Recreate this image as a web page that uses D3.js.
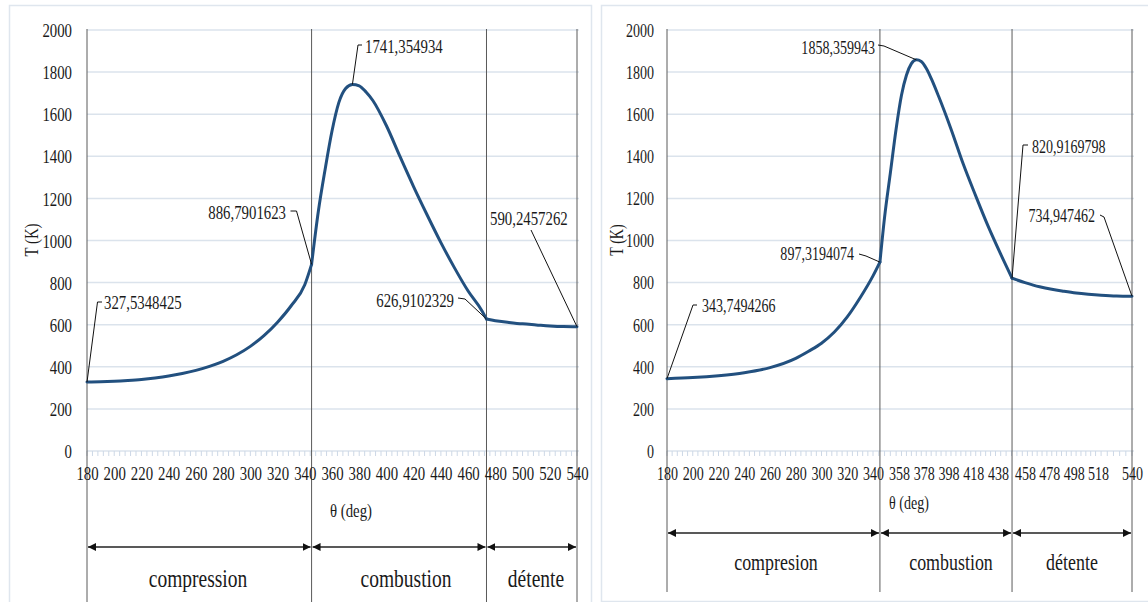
<!DOCTYPE html>
<html><head><meta charset="utf-8">
<script src="https://cdn.jsdelivr.net/npm/d3@7"></script>
<style>
body{margin:0;background:#fff}
svg{display:block}
</style>
</head><body>
<svg id="c" width="1148" height="602" font-family="Liberation Serif"></svg>
<script>
// ---------- DATA ----------
const thetaLeft = [180,190,200,210,220,230,240,250,260,270,280,290,300,310,320,330,340,345,
  350,355,360,365,370,375,380,385,390,400,410,420,430,440,450,460,470,473.5,
  480,490,500,510,520,530,540];
const tempLeft = [327.5348425,328.5,331,335,340,347,356,368,383,402,426,457,497,548,612,690,790,886.7901623,
  1140,1340,1520,1655,1722,1741.354934,1735,1705,1665,1545,1398,1255,1120,990,870,760,668,626.9102329,
  619,611,604,599,594,591,590.2457262];

const thetaRight = [180,200,220,240,260,280,290,300,310,320,330,340,344.8,
  348,352,356,360,364,368,372,376,380,384,390,400,410,420,430,440,448.4,
  458,470,480,490,500,510,520,530,540];
const tempRight = [343.7494266,349,358,372,396,440,474,512,565,637,728,832,897.3194074,
  1110,1320,1530,1690,1785,1840,1858.359943,1850,1818,1770,1685,1530,1362,1212,1068,935,820.9169798,
  800,780,768,759,751,745,740,736,734.947462];

const phaseBoundsLeft = [180, 345, 473.5, 540];
const phaseBoundsRight = [180, 344.8, 448.4, 540];
const phaseLabelsLeft = ["compression", "combustion", "détente"];
const phaseLabelsRight = ["compresion", "combustion", "détente"];

const xTicksLeft = [180,200,220,240,260,280,300,320,340,360,380,400,420,440,460,480,500,520,540];
const xTicksRight = [180,200,220,240,260,280,300,320,340,358,378,398,418,438,458,478,498,518,540];
const yTicks = [0,200,400,600,800,1000,1200,1400,1600,1800,2000];

const annotThetaLeft = [180, 345, 375, 473.5, 540];
const annotThetaRight = [180, 344.8, 372, 448.4, 540];

const yTitle = "T (K)";
const xTitle = "θ (deg)";

// ---------- LAYOUT ----------
const FONT = "Liberation Serif";
const svg = d3.select("#c");
const SQ = 0.78;            // horizontal squeeze of the serif font
const lineColor = "#22507f";
const gridColor = "#dbe3ec";
const vColor = "#5a5a5a";
const inkColor = "#1a1a1a";

function fmt(v){ return String(v).replace(".", ","); }

function txt(g, x, y, s, size, anchor, rot){
  return g.append("text")
    .attr("transform", `translate(${x},${y})` + (rot ? ` rotate(${rot})` : "") + ` scale(${SQ},1)`)
    .attr("text-anchor", anchor || "start")
    .attr("dy", "0.35em")
    .attr("font-family", FONT)
    .attr("font-size", size)
    .attr("fill", inkColor)
    .text(s);
}

function panel(cfg){
  const g = svg.append("g");
  const x = cfg.x;
  const y = d3.scaleLinear().domain([0, 2000]).range([451, 30]);
  const x0 = x(cfg.bounds[0]), x1 = x(cfg.bounds[cfg.bounds.length - 1]);

  g.append("rect").attr("x", cfg.frame[0]).attr("y", cfg.frame[1])
    .attr("width", cfg.frame[2]).attr("height", cfg.frame[3])
    .attr("fill", "none").attr("stroke", "#dfe6ee").attr("stroke-width", 1.5);

  g.selectAll("line.grid").data(yTicks).join("line")
    .attr("x1", x0).attr("x2", x1 + 2)
    .attr("y1", d => y(d)).attr("y2", d => y(d))
    .attr("stroke", gridColor).attr("stroke-width", 1.5);

  g.selectAll("line.minor").data(d3.range(cfg.bounds[0], cfg.bounds[3] + 0.01, 4)).join("line")
    .attr("x1", d => x(d)).attr("x2", d => x(d))
    .attr("y1", y(0)).attr("y2", y(0) + 5)
    .attr("stroke", "#cdd8e6").attr("stroke-width", 1);

  g.selectAll("line.phase").data(cfg.bounds).join("line")
    .attr("x1", d => x(d)).attr("x2", d => x(d))
    .attr("y1", y(2000) - 1).attr("y2", cfg.vBottom)
    .attr("stroke", vColor).attr("stroke-width", 1);

  const ax = g.append("g").attr("transform", `translate(0,${y(0)})`)
    .call(d3.axisBottom(x).tickValues(cfg.xTicks).tickSize(0).tickFormat(d3.format("d")))
    .attr("font-family", FONT);
  ax.select(".domain").remove();
  ax.selectAll("text").attr("y", cfg.tickLabelDy).attr("dy", "0")
    .attr("font-size", cfg.fs).attr("font-family", FONT).attr("fill", inkColor)
    .attr("transform", `scale(${SQ},1)`);

  const ay = g.append("g").attr("transform", `translate(${x0},0)`)
    .call(d3.axisLeft(y).tickValues(yTicks).tickSize(0).tickFormat(d3.format("d")))
    .attr("font-family", FONT);
  ay.select(".domain").remove();
  ay.selectAll("text").attr("x", -cfg.yPad / SQ).attr("dy", "0.35em")
    .attr("font-size", cfg.fs).attr("font-family", FONT).attr("fill", inkColor)
    .attr("transform", `scale(${SQ},1)`);

  txt(g, cfg.yTitlePos[0], cfg.yTitlePos[1], yTitle, cfg.fs, "middle", -90);
  txt(g, cfg.xTitlePos[0], cfg.xTitlePos[1], xTitle, cfg.fs, "middle");

  const pts = cfg.theta.map((t, i) => [t, cfg.temp[i]]);
  const line = d3.line().x(d => x(d[0])).y(d => y(d[1])).curve(d3.curveMonotoneX);
  for (let i = 0; i < 3; i++){
    const seg = pts.filter(d => d[0] >= cfg.bounds[i] && d[0] <= cfg.bounds[i + 1]);
    g.append("path").attr("d", line(seg)).attr("fill", "none")
      .attr("stroke", lineColor).attr("stroke-width", 3)
      .attr("stroke-linejoin", "round").attr("stroke-linecap", "round");
  }

  cfg.annot.forEach((th, i) => {
    const L = cfg.annotLayout[i];
    const v = cfg.temp[cfg.theta.indexOf(th)];
    const path = L.lead.concat([[x(th), y(v)]]);
    g.append("path").attr("d", d3.line()(path)).attr("fill", "none")
      .attr("stroke", "#111").attr("stroke-width", 1);
    txt(g, L.tx, L.ty, fmt(v), cfg.fs, L.anchor);
  });

  const defsId = "ah" + cfg.id;
  svg.append("defs").append("marker").attr("id", defsId)
    .attr("viewBox", "0 0 10 10").attr("refX", 10).attr("refY", 5)
    .attr("markerWidth", 8).attr("markerHeight", 8).attr("markerUnits", "userSpaceOnUse")
    .attr("orient", "auto-start-reverse")
    .append("path").attr("d", "M0,0 L10,5 L0,10 Z").attr("fill", "#111");
  for (let i = 0; i < 3; i++){
    g.append("line")
      .attr("x1", x(cfg.bounds[i]) + 1).attr("x2", x(cfg.bounds[i + 1]) - 1)
      .attr("y1", cfg.arrowY).attr("y2", cfg.arrowY)
      .attr("stroke", "#222").attr("stroke-width", 1.3)
      .attr("marker-start", `url(#${defsId})`).attr("marker-end", `url(#${defsId})`);
    txt(g, cfg.phaseLabelX[i], cfg.phaseLabelY, cfg.phaseLabels[i], cfg.pfs, "middle");
  }
}

panel({
  id: "L",
  theta: thetaLeft, temp: tempLeft, bounds: phaseBoundsLeft,
  x: d3.scaleLinear().domain([180, 540]).range([87, 577]),
  xTicks: xTicksLeft, fs: 19, pfs: 25,
  frame: [9.5, 5.5, 582, 640], vBottom: 602,
  tickLabelDy: 29.5, yPad: 15,
  yTitlePos: [31, 240], xTitlePos: [351, 510],
  arrowY: 547, phaseLabelY: 578, phaseLabelX: [198, 406, 536],
  phaseLabels: phaseLabelsLeft,
  annot: annotThetaLeft,
  annotLayout: [
    {tx: 104, ty: 302, anchor: "start", lead: [[102, 302], [97.5, 302]]},
    {tx: 286, ty: 212, anchor: "end", lead: [[290.5, 211], [296.5, 211]]},
    {tx: 365, ty: 46, anchor: "start", lead: [[362, 45], [358, 45]]},
    {tx: 454, ty: 300, anchor: "end", lead: [[458, 298], [465, 299]]},
    {tx: 490, ty: 218, anchor: "start", lead: [[531, 230]]}
  ]
});

const rDom = [180, 340, 358, 438, 458, 518, 540];
const rRng = [667, 873, 899, 998, 1025, 1098, 1132];
panel({
  id: "R",
  theta: thetaRight, temp: tempRight, bounds: phaseBoundsRight,
  x: d3.scaleLinear().domain(rDom).range(rRng),
  xTicks: xTicksRight, fs: 18, pfs: 23,
  frame: [601.5, 5.5, 560, 596], vBottom: 592,
  tickLabelDy: 29, yPad: 13,
  yTitlePos: [617, 240], xTitlePos: [909, 503],
  arrowY: 533, phaseLabelY: 562, phaseLabelX: [776, 951, 1072],
  phaseLabels: phaseLabelsRight,
  annot: annotThetaRight,
  annotLayout: [
    {tx: 702, ty: 306, anchor: "start", lead: [[697, 305], [693, 305]]},
    {tx: 854, ty: 254, anchor: "end", lead: [[859, 254], [866, 256]]},
    {tx: 875, ty: 48, anchor: "end", lead: [[878, 45], [884, 46]]},
    {tx: 1032, ty: 147, anchor: "start", lead: [[1028, 145], [1023, 145]]},
    {tx: 1095, ty: 216, anchor: "end", lead: [[1100, 215], [1104, 217]]}
  ]
});
</script>
</body></html>
